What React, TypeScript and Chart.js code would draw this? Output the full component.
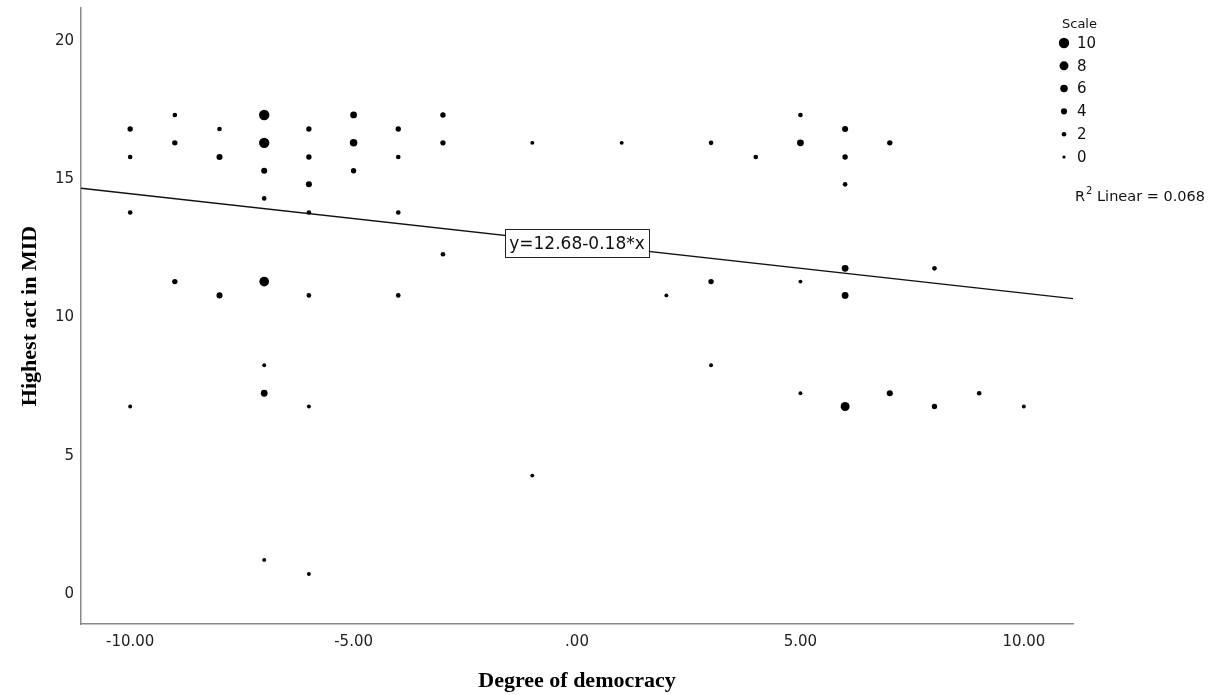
import { useEffect, useRef } from "react";
import { Chart, registerables } from "chart.js";

Chart.register(...registerables);

// Degree of democracy (x), Highest act in MID (y), number of cases at the point (scale)
const DEMOCRACY = [
  -10, -10, -10, -10,
  -9, -9, -9,
  -8, -8, -8,
  -7, -7, -7, -7, -7, -7, -7, -7,
  -6, -6, -6, -6, -6, -6, -6,
  -5, -5, -5,
  -4, -4, -4, -4,
  -3, -3, -3,
  -1, -1,
  1,
  2,
  3, 3, 3,
  4,
  5, 5, 5, 5,
  6, 6, 6, 6, 6, 6,
  7, 7,
  8, 8,
  9,
  10,
];
const HIGHEST_ACT = [
  16.82, 15.81, 13.8, 6.78,
  17.33, 16.32, 11.3,
  16.82, 15.81, 10.8,
  17.33, 16.32, 15.31, 14.31, 11.3, 8.27, 7.26, 1.23,
  16.82, 15.81, 14.82, 13.8, 10.8, 6.78, 0.72,
  17.33, 16.32, 15.31,
  16.82, 15.81, 13.8, 10.8,
  17.33, 16.32, 12.29,
  16.32, 4.28,
  16.32,
  10.8,
  16.32, 11.3, 8.27,
  15.81,
  17.33, 16.32, 11.3, 7.26,
  16.82, 15.81, 14.82, 11.78, 10.8, 6.78,
  16.32, 7.26,
  11.78, 6.78,
  7.26,
  6.78,
];
const SCALE_COUNTS = [
  3, 2, 2, 1,
  2, 3, 3,
  2, 4, 4,
  10, 10, 4, 2, 9, 1, 5, 1,
  3, 3, 4, 2, 2, 1, 1,
  5, 6, 3,
  3, 2, 2, 2,
  3, 3, 2,
  1, 1,
  1,
  1,
  2, 3, 1,
  2,
  2, 5, 1, 1,
  4, 3, 2, 5, 5, 8,
  3, 4,
  2, 3,
  2,
  1,
];

const X_TICKS = [-10, -5, 0, 5, 10];
const X_TICK_LABELS = ["-10.00", "-5.00", ".00", "5.00", "10.00"];
const Y_TICKS = [0, 5, 10, 15, 20];
const Y_TICK_LABELS = ["0", "5", "10", "15", "20"];
const LEGEND_SIZES = [10, 8, 6, 4, 2, 0];
const LEGEND_TITLE = "Scale";
const FIT_INTERCEPT = 12.68;
const FIT_SLOPE = -0.18;
const FIT_LABEL = "y=12.68-0.18*x";
const R2_VALUE = "0.068";

const X_MIN = -11.1;
const X_MAX = 11.1;
const Y_MIN = -1.09;
const Y_MAX = 21.2;

const radiusFor = (n: number) => 1.6 + 0.36 * n;

const SANS = '"DejaVu Sans", sans-serif';
const SERIF = '"Liberation Serif", "Times New Roman", serif';

const overlayPlugin = {
  id: "overlay",
  afterDraw(chart: any) {
    const ctx = chart.ctx as CanvasRenderingContext2D;
    const xs = chart.scales.x;
    const ys = chart.scales.y;
    ctx.save();

    // regression equation label
    const lx = xs.getPixelForValue(0);
    const ly = ys.getPixelForValue(FIT_INTERCEPT);
    ctx.font = `17px ${SANS}`;
    const tw = ctx.measureText(FIT_LABEL).width;
    const bw = tw + 8;
    const bh = 28;
    ctx.fillStyle = "#fff";
    ctx.fillRect(lx - bw / 2, ly - bh / 2, bw, bh);
    ctx.strokeStyle = "#222";
    ctx.lineWidth = 1;
    ctx.strokeRect(Math.round(lx - bw / 2) + 0.5, Math.round(ly - bh / 2) + 0.5, Math.round(bw), bh);
    ctx.fillStyle = "#111";
    ctx.textAlign = "center";
    ctx.textBaseline = "middle";
    ctx.fillText(FIT_LABEL, lx, ly + 1);

    // size legend
    const area = chart.chartArea;
    const lgX = area.right - 11;
    ctx.textAlign = "left";
    ctx.font = `13px ${SANS}`;
    ctx.fillStyle = "#111";
    ctx.fillText(LEGEND_TITLE, lgX, 25);
    ctx.font = `15px ${SANS}`;
    LEGEND_SIZES.forEach((s, i) => {
      const y = 43 + i * 22.8;
      ctx.beginPath();
      ctx.arc(lgX + 2, y, radiusFor(s), 0, Math.PI * 2);
      ctx.fillStyle = "#000";
      ctx.fill();
      ctx.fillStyle = "#111";
      ctx.fillText(String(s), lgX + 15, y + 1);
    });

    // R² text
    const ry = 197;
    let rx = area.right + 2;
    ctx.font = `14.5px ${SANS}`;
    ctx.fillText("R", rx, ry);
    rx += ctx.measureText("R").width;
    ctx.font = `10px ${SANS}`;
    ctx.fillText("2", rx + 1, ry - 6);
    rx += ctx.measureText("2").width + 1;
    ctx.font = `14.5px ${SANS}`;
    ctx.fillText(` Linear = ${R2_VALUE}`, rx, ry);

    ctx.restore();
  },
};

export default function App() {
  const ref = useRef<HTMLCanvasElement | null>(null);

  useEffect(() => {
    if (!ref.current) return;
    const points = DEMOCRACY.map((x, i) => ({ x, y: HIGHEST_ACT[i] }));
    const fit = [
      { x: X_MIN, y: FIT_INTERCEPT + FIT_SLOPE * X_MIN },
      { x: X_MAX, y: FIT_INTERCEPT + FIT_SLOPE * X_MAX },
    ];
    const chart = new Chart(ref.current, {
      type: "scatter",
      data: {
        datasets: [
          {
            type: "line",
            data: fit,
            borderColor: "#111",
            borderWidth: 1.3,
            pointRadius: 0,
            fill: false,
          } as any,
          {
            data: points,
            backgroundColor: "#000",
            borderColor: "#000",
            borderWidth: 0,
            pointRadius: SCALE_COUNTS.map(radiusFor),
            pointHoverRadius: SCALE_COUNTS.map(radiusFor),
          },
        ],
      },
      options: {
        responsive: false,
        animation: false,
        events: [],
        layout: { padding: { top: 8, right: 148, left: 0, bottom: 0 } },
        plugins: {
          legend: { display: false },
          tooltip: { enabled: false },
        },
        scales: {
          x: {
            type: "linear",
            min: X_MIN,
            max: X_MAX,
            afterBuildTicks: (s: any) => {
              s.ticks = X_TICKS.map((v) => ({ value: v }));
            },
            afterFit: (s: any) => {
              s.height = 71;
              s.paddingLeft = 0;
              s.paddingRight = 0;
            },
            grid: { display: false, drawTicks: false },
            border: { display: true, color: "#8a8a8a", width: 1.5 },
            ticks: {
              padding: 9,
              color: "#222",
              font: { family: SANS, size: 15 },
              callback: (v: any) => X_TICK_LABELS[X_TICKS.indexOf(Number(v))] ?? "",
            },
            title: {
              display: true,
              text: "Degree of democracy",
              color: "#000",
              font: { family: SERIF, size: 22, weight: "bold" },
              padding: { top: 0, bottom: 0 },
            },
          },
          y: {
            type: "linear",
            min: Y_MIN,
            max: Y_MAX,
            afterBuildTicks: (s: any) => {
              s.ticks = Y_TICKS.map((v) => ({ value: v }));
            },
            afterFit: (s: any) => {
              s.width = 81;
              s.paddingTop = 0;
              s.paddingBottom = 0;
            },
            grid: { display: false, drawTicks: false },
            border: { display: true, color: "#8a8a8a", width: 1.5 },
            ticks: {
              padding: 7,
              color: "#222",
              font: { family: SANS, size: 15 },
              callback: (v: any) => Y_TICK_LABELS[Y_TICKS.indexOf(Number(v))] ?? "",
            },
            title: {
              display: true,
              text: "Highest act in MID",
              color: "#000",
              font: { family: SERIF, size: 22, weight: "bold" },
              padding: { top: 17, bottom: 0 },
            },
          },
        },
      },
      plugins: [overlayPlugin],
    });
    return () => chart.destroy();
  }, []);

  return (
    <div style={{ position: "absolute", left: 0, top: 0, width: 1221, height: 695, background: "#fff" }}>
      <canvas ref={ref} width={1221} height={695} style={{ display: "block" }} />
    </div>
  );
}
